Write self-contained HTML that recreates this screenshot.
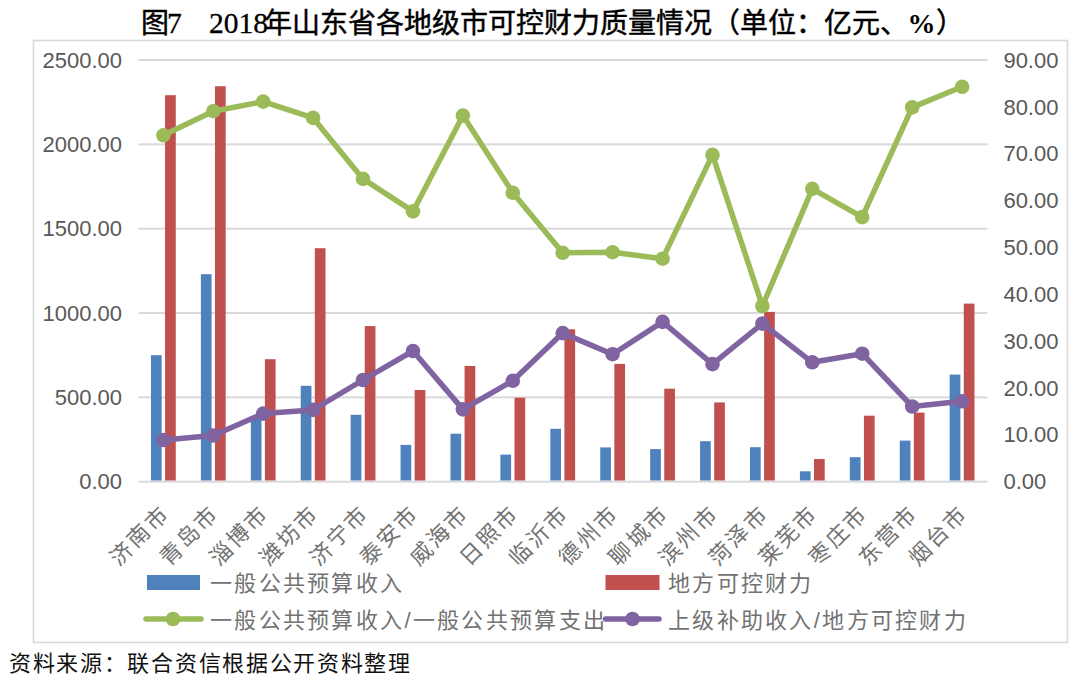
<!DOCTYPE html><html lang="zh-CN"><head><meta charset="utf-8"><style>html,body{margin:0;padding:0;background:#fff;width:1080px;height:684px;overflow:hidden}svg{display:block}</style></head><body>
<svg width="1080" height="684" viewBox="0 0 1080 684">
<g font-family="Liberation Serif, serif" font-size="28" fill="#000"><text y="32.5"><tspan x="140.6" stroke="#000" stroke-width="0.45">图</tspan><tspan x="167" font-size="29.5" stroke="#000" stroke-width="0.3">7</tspan><tspan x="209" font-size="29.5" stroke="#000" stroke-width="0.3">2018</tspan><tspan x="264" stroke="#000" stroke-width="0.45">年山东省各地级市可控财力质量情况（单位：亿元、</tspan><tspan x="907.5" font-weight="bold">%</tspan><tspan x="935.5" stroke="#000" stroke-width="0.5">）</tspan></text></g>
<rect x="33.5" y="40.5" width="1034" height="602" fill="none" stroke="#d9d9d9" stroke-width="1.6"/>
<rect x="138.4" y="480.70" width="849.10" height="2" fill="#d9d9d9"/>
<text x="122" y="489.30" text-anchor="end" font-family="Liberation Sans, sans-serif" font-size="22" fill="#595959">0.00</text>
<rect x="138.4" y="396.37" width="849.10" height="2" fill="#d9d9d9"/>
<text x="122" y="404.97" text-anchor="end" font-family="Liberation Sans, sans-serif" font-size="22" fill="#595959">500.00</text>
<rect x="138.4" y="312.04" width="849.10" height="2" fill="#d9d9d9"/>
<text x="122" y="320.64" text-anchor="end" font-family="Liberation Sans, sans-serif" font-size="22" fill="#595959">1000.00</text>
<rect x="138.4" y="227.71" width="849.10" height="2" fill="#d9d9d9"/>
<text x="122" y="236.31" text-anchor="end" font-family="Liberation Sans, sans-serif" font-size="22" fill="#595959">1500.00</text>
<rect x="138.4" y="143.38" width="849.10" height="2" fill="#d9d9d9"/>
<text x="122" y="151.98" text-anchor="end" font-family="Liberation Sans, sans-serif" font-size="22" fill="#595959">2000.00</text>
<rect x="138.4" y="59.05" width="849.10" height="2" fill="#d9d9d9"/>
<text x="122" y="67.65" text-anchor="end" font-family="Liberation Sans, sans-serif" font-size="22" fill="#595959">2500.00</text>
<text x="1003.4" y="489.30" font-family="Liberation Sans, sans-serif" font-size="22" fill="#595959">0.00</text>
<text x="1003.4" y="442.45" font-family="Liberation Sans, sans-serif" font-size="22" fill="#595959">10.00</text>
<text x="1003.4" y="395.60" font-family="Liberation Sans, sans-serif" font-size="22" fill="#595959">20.00</text>
<text x="1003.4" y="348.75" font-family="Liberation Sans, sans-serif" font-size="22" fill="#595959">30.00</text>
<text x="1003.4" y="301.90" font-family="Liberation Sans, sans-serif" font-size="22" fill="#595959">40.00</text>
<text x="1003.4" y="255.05" font-family="Liberation Sans, sans-serif" font-size="22" fill="#595959">50.00</text>
<text x="1003.4" y="208.20" font-family="Liberation Sans, sans-serif" font-size="22" fill="#595959">60.00</text>
<text x="1003.4" y="161.35" font-family="Liberation Sans, sans-serif" font-size="22" fill="#595959">70.00</text>
<text x="1003.4" y="114.50" font-family="Liberation Sans, sans-serif" font-size="22" fill="#595959">80.00</text>
<text x="1003.4" y="67.65" font-family="Liberation Sans, sans-serif" font-size="22" fill="#595959">90.00</text>
<rect x="150.96" y="355.2" width="10.7" height="125.30" fill="#4f81bd"/>
<rect x="165.06" y="95.2" width="10.7" height="385.30" fill="#c0504d"/>
<rect x="200.88" y="274.2" width="10.7" height="206.30" fill="#4f81bd"/>
<rect x="214.98" y="86.2" width="10.7" height="394.30" fill="#c0504d"/>
<rect x="250.80" y="416" width="10.7" height="64.50" fill="#4f81bd"/>
<rect x="264.90" y="359.2" width="10.7" height="121.30" fill="#c0504d"/>
<rect x="300.72" y="385.8" width="10.7" height="94.70" fill="#4f81bd"/>
<rect x="314.82" y="248.2" width="10.7" height="232.30" fill="#c0504d"/>
<rect x="350.64" y="414.8" width="10.7" height="65.70" fill="#4f81bd"/>
<rect x="364.74" y="326.1" width="10.7" height="154.40" fill="#c0504d"/>
<rect x="400.56" y="444.9" width="10.7" height="35.60" fill="#4f81bd"/>
<rect x="414.66" y="390" width="10.7" height="90.50" fill="#c0504d"/>
<rect x="450.48" y="433.7" width="10.7" height="46.80" fill="#4f81bd"/>
<rect x="464.58" y="365.9" width="10.7" height="114.60" fill="#c0504d"/>
<rect x="500.40" y="454.6" width="10.7" height="25.90" fill="#4f81bd"/>
<rect x="514.50" y="397.7" width="10.7" height="82.80" fill="#c0504d"/>
<rect x="550.32" y="428.8" width="10.7" height="51.70" fill="#4f81bd"/>
<rect x="564.42" y="329.3" width="10.7" height="151.20" fill="#c0504d"/>
<rect x="600.24" y="447.4" width="10.7" height="33.10" fill="#4f81bd"/>
<rect x="614.34" y="363.9" width="10.7" height="116.60" fill="#c0504d"/>
<rect x="650.16" y="449.1" width="10.7" height="31.40" fill="#4f81bd"/>
<rect x="664.26" y="388.7" width="10.7" height="91.80" fill="#c0504d"/>
<rect x="700.08" y="441.2" width="10.7" height="39.30" fill="#4f81bd"/>
<rect x="714.18" y="402.4" width="10.7" height="78.10" fill="#c0504d"/>
<rect x="750.00" y="447.2" width="10.7" height="33.30" fill="#4f81bd"/>
<rect x="764.10" y="311.9" width="10.7" height="168.60" fill="#c0504d"/>
<rect x="799.92" y="471.3" width="10.7" height="9.20" fill="#4f81bd"/>
<rect x="814.02" y="459" width="10.7" height="21.50" fill="#c0504d"/>
<rect x="849.84" y="457.2" width="10.7" height="23.30" fill="#4f81bd"/>
<rect x="863.94" y="415.7" width="10.7" height="64.80" fill="#c0504d"/>
<rect x="899.76" y="440.6" width="10.7" height="39.90" fill="#4f81bd"/>
<rect x="913.86" y="412.6" width="10.7" height="67.90" fill="#c0504d"/>
<rect x="949.68" y="374.6" width="10.7" height="105.90" fill="#4f81bd"/>
<rect x="963.78" y="303.6" width="10.7" height="176.90" fill="#c0504d"/>
<polyline points="163.4,135.3 213.3,111.2 263.2,101.6 313.1,117.9 363.0,178.9 413.0,211.4 462.9,115.6 512.8,192.8 562.7,252.8 612.6,252.2 662.6,258.7 712.5,154.9 762.4,306 812.3,188.9 862.2,217.1 912.2,107.4 962.1,86.8" fill="none" stroke="#9bbb59" stroke-width="5.5" stroke-linejoin="round" stroke-linecap="round"/>
<circle cx="163.4" cy="135.3" r="7.3" fill="#9bbb59"/>
<circle cx="213.3" cy="111.2" r="7.3" fill="#9bbb59"/>
<circle cx="263.2" cy="101.6" r="7.3" fill="#9bbb59"/>
<circle cx="313.1" cy="117.9" r="7.3" fill="#9bbb59"/>
<circle cx="363.0" cy="178.9" r="7.3" fill="#9bbb59"/>
<circle cx="413.0" cy="211.4" r="7.3" fill="#9bbb59"/>
<circle cx="462.9" cy="115.6" r="7.3" fill="#9bbb59"/>
<circle cx="512.8" cy="192.8" r="7.3" fill="#9bbb59"/>
<circle cx="562.7" cy="252.8" r="7.3" fill="#9bbb59"/>
<circle cx="612.6" cy="252.2" r="7.3" fill="#9bbb59"/>
<circle cx="662.6" cy="258.7" r="7.3" fill="#9bbb59"/>
<circle cx="712.5" cy="154.9" r="7.3" fill="#9bbb59"/>
<circle cx="762.4" cy="306" r="7.3" fill="#9bbb59"/>
<circle cx="812.3" cy="188.9" r="7.3" fill="#9bbb59"/>
<circle cx="862.2" cy="217.1" r="7.3" fill="#9bbb59"/>
<circle cx="912.2" cy="107.4" r="7.3" fill="#9bbb59"/>
<circle cx="962.1" cy="86.8" r="7.3" fill="#9bbb59"/>
<polyline points="163.4,440 213.3,435.5 263.2,413.6 313.1,409.9 363.0,380 413.0,351 462.9,409.4 512.8,380.8 562.7,333.1 612.6,354.2 662.6,321.9 712.5,364.1 762.4,323.6 812.3,362.3 862.2,353.7 912.2,406.5 962.1,401.3" fill="none" stroke="#8064a2" stroke-width="5.5" stroke-linejoin="round" stroke-linecap="round"/>
<circle cx="163.4" cy="440" r="7.3" fill="#8064a2"/>
<circle cx="213.3" cy="435.5" r="7.3" fill="#8064a2"/>
<circle cx="263.2" cy="413.6" r="7.3" fill="#8064a2"/>
<circle cx="313.1" cy="409.9" r="7.3" fill="#8064a2"/>
<circle cx="363.0" cy="380" r="7.3" fill="#8064a2"/>
<circle cx="413.0" cy="351" r="7.3" fill="#8064a2"/>
<circle cx="462.9" cy="409.4" r="7.3" fill="#8064a2"/>
<circle cx="512.8" cy="380.8" r="7.3" fill="#8064a2"/>
<circle cx="562.7" cy="333.1" r="7.3" fill="#8064a2"/>
<circle cx="612.6" cy="354.2" r="7.3" fill="#8064a2"/>
<circle cx="662.6" cy="321.9" r="7.3" fill="#8064a2"/>
<circle cx="712.5" cy="364.1" r="7.3" fill="#8064a2"/>
<circle cx="762.4" cy="323.6" r="7.3" fill="#8064a2"/>
<circle cx="812.3" cy="362.3" r="7.3" fill="#8064a2"/>
<circle cx="862.2" cy="353.7" r="7.3" fill="#8064a2"/>
<circle cx="912.2" cy="406.5" r="7.3" fill="#8064a2"/>
<circle cx="962.1" cy="401.3" r="7.3" fill="#8064a2"/>
<text transform="translate(159.4,503.8) rotate(-45)" text-anchor="end" dominant-baseline="hanging" font-family="Liberation Sans, sans-serif" font-size="22" letter-spacing="2.3" fill="#727272">济南市</text>
<text transform="translate(209.3,503.8) rotate(-45)" text-anchor="end" dominant-baseline="hanging" font-family="Liberation Sans, sans-serif" font-size="22" letter-spacing="2.3" fill="#727272">青岛市</text>
<text transform="translate(259.2,503.8) rotate(-45)" text-anchor="end" dominant-baseline="hanging" font-family="Liberation Sans, sans-serif" font-size="22" letter-spacing="2.3" fill="#727272">淄博市</text>
<text transform="translate(309.1,503.8) rotate(-45)" text-anchor="end" dominant-baseline="hanging" font-family="Liberation Sans, sans-serif" font-size="22" letter-spacing="2.3" fill="#727272">潍坊市</text>
<text transform="translate(359.0,503.8) rotate(-45)" text-anchor="end" dominant-baseline="hanging" font-family="Liberation Sans, sans-serif" font-size="22" letter-spacing="2.3" fill="#727272">济宁市</text>
<text transform="translate(409.0,503.8) rotate(-45)" text-anchor="end" dominant-baseline="hanging" font-family="Liberation Sans, sans-serif" font-size="22" letter-spacing="2.3" fill="#727272">泰安市</text>
<text transform="translate(458.9,503.8) rotate(-45)" text-anchor="end" dominant-baseline="hanging" font-family="Liberation Sans, sans-serif" font-size="22" letter-spacing="2.3" fill="#727272">威海市</text>
<text transform="translate(508.8,503.8) rotate(-45)" text-anchor="end" dominant-baseline="hanging" font-family="Liberation Sans, sans-serif" font-size="22" letter-spacing="2.3" fill="#727272">日照市</text>
<text transform="translate(558.7,503.8) rotate(-45)" text-anchor="end" dominant-baseline="hanging" font-family="Liberation Sans, sans-serif" font-size="22" letter-spacing="2.3" fill="#727272">临沂市</text>
<text transform="translate(608.6,503.8) rotate(-45)" text-anchor="end" dominant-baseline="hanging" font-family="Liberation Sans, sans-serif" font-size="22" letter-spacing="2.3" fill="#727272">德州市</text>
<text transform="translate(658.6,503.8) rotate(-45)" text-anchor="end" dominant-baseline="hanging" font-family="Liberation Sans, sans-serif" font-size="22" letter-spacing="2.3" fill="#727272">聊城市</text>
<text transform="translate(708.5,503.8) rotate(-45)" text-anchor="end" dominant-baseline="hanging" font-family="Liberation Sans, sans-serif" font-size="22" letter-spacing="2.3" fill="#727272">滨州市</text>
<text transform="translate(758.4,503.8) rotate(-45)" text-anchor="end" dominant-baseline="hanging" font-family="Liberation Sans, sans-serif" font-size="22" letter-spacing="2.3" fill="#727272">菏泽市</text>
<text transform="translate(808.3,503.8) rotate(-45)" text-anchor="end" dominant-baseline="hanging" font-family="Liberation Sans, sans-serif" font-size="22" letter-spacing="2.3" fill="#727272">莱芜市</text>
<text transform="translate(858.2,503.8) rotate(-45)" text-anchor="end" dominant-baseline="hanging" font-family="Liberation Sans, sans-serif" font-size="22" letter-spacing="2.3" fill="#727272">枣庄市</text>
<text transform="translate(908.2,503.8) rotate(-45)" text-anchor="end" dominant-baseline="hanging" font-family="Liberation Sans, sans-serif" font-size="22" letter-spacing="2.3" fill="#727272">东营市</text>
<text transform="translate(958.1,503.8) rotate(-45)" text-anchor="end" dominant-baseline="hanging" font-family="Liberation Sans, sans-serif" font-size="22" letter-spacing="2.3" fill="#727272">烟台市</text>
<rect x="147" y="575" width="53" height="15" fill="#4f81bd"/>
<text x="210" y="591" font-family="Liberation Sans, sans-serif" font-size="22" letter-spacing="2.3" fill="#727272">一般公共预算收入</text>
<rect x="605.5" y="575" width="54" height="15" fill="#c0504d"/>
<text x="668" y="591" font-family="Liberation Sans, sans-serif" font-size="22" letter-spacing="2.3" fill="#727272">地方可控财力</text>
<line x1="146" y1="619" x2="201" y2="619" stroke="#9bbb59" stroke-width="5.5" stroke-linecap="round"/><circle cx="173" cy="619" r="7.3" fill="#9bbb59"/>
<text x="210" y="628" font-family="Liberation Sans, sans-serif" font-size="22" letter-spacing="2.3" fill="#727272">一般公共预算收入/一般公共预算支出</text>
<line x1="605.5" y1="619" x2="659" y2="619" stroke="#8064a2" stroke-width="5.5" stroke-linecap="round"/><circle cx="632.5" cy="619" r="7.3" fill="#8064a2"/>
<text x="668" y="628" font-family="Liberation Sans, sans-serif" font-size="22" letter-spacing="2.3" fill="#727272">上级补助收入/地方可控财力</text>
<text x="9" y="671" font-family="Liberation Serif, serif" font-size="22" letter-spacing="1.7" fill="#111">资料来源：联合资信根据公开资料整理</text>
</svg></body></html>
